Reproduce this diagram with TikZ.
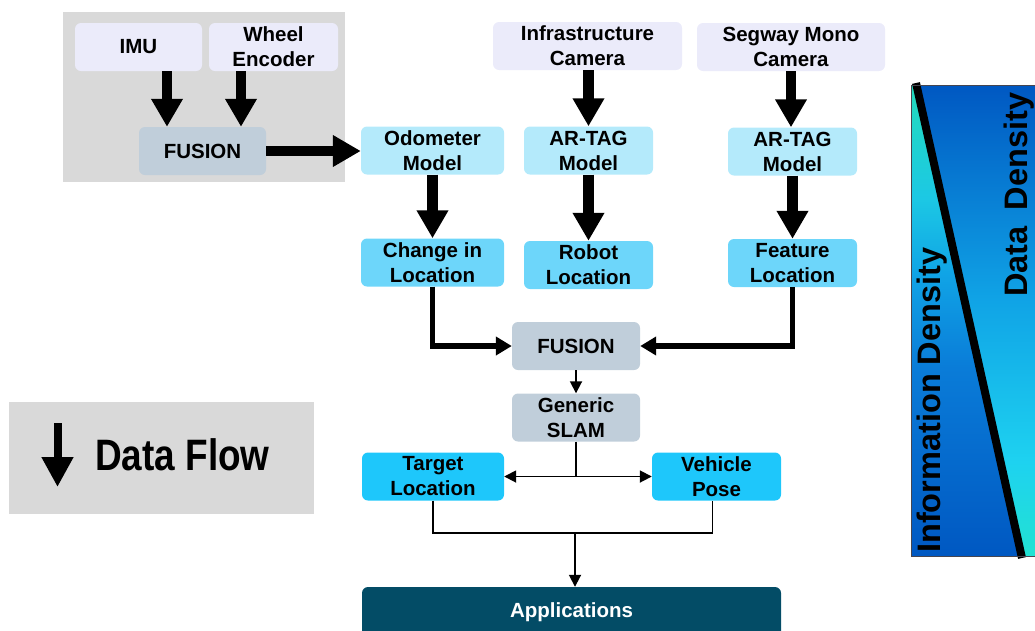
\documentclass[tikz,border=0pt]{standalone}
\usepackage{fontspec}
\setmainfont{Liberation Sans}
\usetikzlibrary{arrows.meta,calc}

\definecolor{panelgray}{HTML}{D9D9D9}
\definecolor{sensor}{HTML}{EBEBFA}
\definecolor{fusebox}{HTML}{C0CEDA}
\definecolor{modelbox}{HTML}{B4EAFB}
\definecolor{resultbox}{HTML}{6DD6FA}
\definecolor{outbox}{HTML}{1EC7FB}
\definecolor{appbox}{HTML}{034C66}
\definecolor{gTeal}{HTML}{22DCBC}
\definecolor{gCyan}{HTML}{1CC8E4}
\definecolor{gSky}{HTML}{10A4E6}
\definecolor{gMid}{HTML}{0A7CD8}
\definecolor{gDeep}{HTML}{0058C2}
\definecolor{gAqua}{HTML}{22E2D2}
\definecolor{gLight}{HTML}{1ED2F0}

% gradient of the lower-left wedge (information density);
% the visible part of a shading is its middle band 25bp..75bp
\pgfdeclareverticalshading{infoshade}{100bp}{%
  color(0bp)=(gDeep); color(25bp)=(gDeep); color(45bp)=(gMid);
  color(55bp)=(gSky); color(63bp)=(gCyan); color(75bp)=(gTeal);
  color(100bp)=(gTeal)}
% gradient of the upper-right wedge (data density)
\pgfdeclareverticalshading{datashade}{100bp}{%
  color(0bp)=(gAqua); color(25bp)=(gAqua); color(35bp)=(gLight);
  color(52bp)=(gSky); color(75bp)=(gDeep); color(100bp)=(gDeep)}

\begin{document}
\begin{tikzpicture}[x=1pt,y=-1pt,
  box/.style={rounded corners=6pt, minimum height=48pt, inner sep=0pt,
    align=center, font=\fontsize{20.5}{25}\selectfont\bfseries},
  sensorbox/.style={box, fill=sensor},
  fusionbox/.style={box, fill=fusebox},
  modelnode/.style={box, fill=modelbox},
  resultnode/.style={box, fill=resultbox},
  outnode/.style={box, fill=outbox},
  bigflow/.style={line width=10.5pt, -{Triangle[width=30pt,length=28pt]}},
  midflow/.style={line width=5.5pt, -{Triangle[width=18pt,length=16pt]}},
  thinflow/.style={line width=1.8pt, -{Triangle[width=12pt,length=12pt]}},
  thinline/.style={line width=1.4pt},
  rottext/.style={rotate=90, anchor=base west, inner sep=0pt,
    font=\fontsize{32.5}{36}\selectfont\bfseries}
]
\useasboundingbox (0,0) rectangle (1035,630);

% grey panels
\fill[panelgray] (63,12) rectangle (345,182);
\fill[panelgray] (9,402) rectangle (314,514);

% sensors
\node[sensorbox, minimum width=127pt] (imu)    at (138.5,47) {IMU};
\node[sensorbox, minimum width=129pt] (wheel)  at (273.5,47) {Wheel\\Encoder};
\node[sensorbox, minimum width=189pt] (infra)  at (587.5,46) {Infrastructure\\Camera};
\node[sensorbox, minimum width=188pt] (segway) at (791,47)   {Segway Mono\\Camera};

% models
\node[fusionbox, minimum width=127pt] (fus1)   at (202.5,151) {FUSION};
\node[modelnode, minimum width=143pt] (odo)    at (432.5,150.5) {Odometer\\Model};
\node[modelnode, minimum width=129pt] (tagA)   at (588.5,150.5) {AR-TAG\\Model};
\node[modelnode, minimum width=129pt] (tagB)   at (792.5,151.5) {AR-TAG\\Model};

% estimates
\node[resultnode, minimum width=143pt] (change)  at (432.5,262.5) {Change in\\Location};
\node[resultnode, minimum width=129pt] (robot)   at (588.5,265)   {Robot\\Location};
\node[resultnode, minimum width=129pt] (feature) at (792.5,263)   {Feature\\Location};

% fusion and SLAM
\node[fusionbox, minimum width=128pt] (fus2) at (576,346)   {FUSION};
\node[fusionbox, minimum width=128pt] (slam) at (576,417.5) {Generic\\SLAM};

% outputs
\node[outnode, minimum width=142pt] (target)  at (433,476.5)   {Target\\Location};
\node[outnode, minimum width=129pt] (vehicle) at (716.5,476.5) {Vehicle\\Pose};
\node[box, fill=appbox, text=white, minimum width=419pt, minimum height=50pt]
  (apps) at (571.5,612) {Applications};

% thick data-flow arrows
\draw[bigflow] ([xshift=28.5pt]imu.south) -- ([xshift=28.5pt]imu.south |- fus1.north);
\draw[bigflow] ([xshift=-32.5pt]wheel.south) -- ([xshift=-32.5pt]wheel.south |- fus1.north);
\draw[bigflow] (fus1.east) -- (fus1.east -| odo.west);
\draw[bigflow] (tagA.north |- infra.south) -- (tagA.north);
\draw[bigflow] (segway.south) -- (segway.south |- tagB.north);
\draw[bigflow] (odo.south) -- (change.north);
\draw[bigflow] (tagA.south) -- (robot.north);
\draw[bigflow] (tagB.south) -- (feature.north);

% into the second fusion
\draw[midflow] (change.south) |- (fus2.west);
\draw[midflow] (feature.south) |- (fus2.east);

% SLAM chain
\draw[thinflow] (fus2.south) -- (slam.north);
\coordinate (split) at (slam.south |- target.east);
\draw[thinline] (slam.south) -- (split);
\draw[thinflow] (split) -- (target.east);
\draw[thinflow] (split) -- (vehicle.west);

% merge into applications
\coordinate (join) at (575,533);
\draw[thinline] (target.south) |- (join);
\draw[thinline] (join) -| ([xshift=-4pt]vehicle.south);
\draw[thinflow] (join) -- (join |- apps.north);

% legend
\coordinate (dfTop) at (57.5,423);
\coordinate (dfTip) at (57.5,487);
\draw[line width=8pt, -{Triangle[width=30pt,length=30pt]}] (dfTop) -- (dfTip);
\node[anchor=base west, inner sep=0pt, font=\fontsize{44}{50}\selectfont\bfseries]
  (dflabel) at (95,470) {\scalebox{0.84}[1]{Data Flow}};

% density wedge panel
\shade[shading=infoshade] (911,85) -- (916,85) -- (1022,556) -- (911,556) -- cycle;
\shade[shading=datashade] (916,85) -- (1040,85) -- (1040,556) -- (1022,556) -- cycle;
\draw[line width=8pt] (916,83) -- (1022,558);
\draw[line width=1pt, draw={rgb,255:red,70;green,70;blue,80}] (911,85) rectangle (1040,556);
\node[rottext] (info) at (940,553) {Information Density};
\node[rottext] (data) at (1027,297) {Data\hspace{0.5em}Density};
\end{tikzpicture}
\end{document}
